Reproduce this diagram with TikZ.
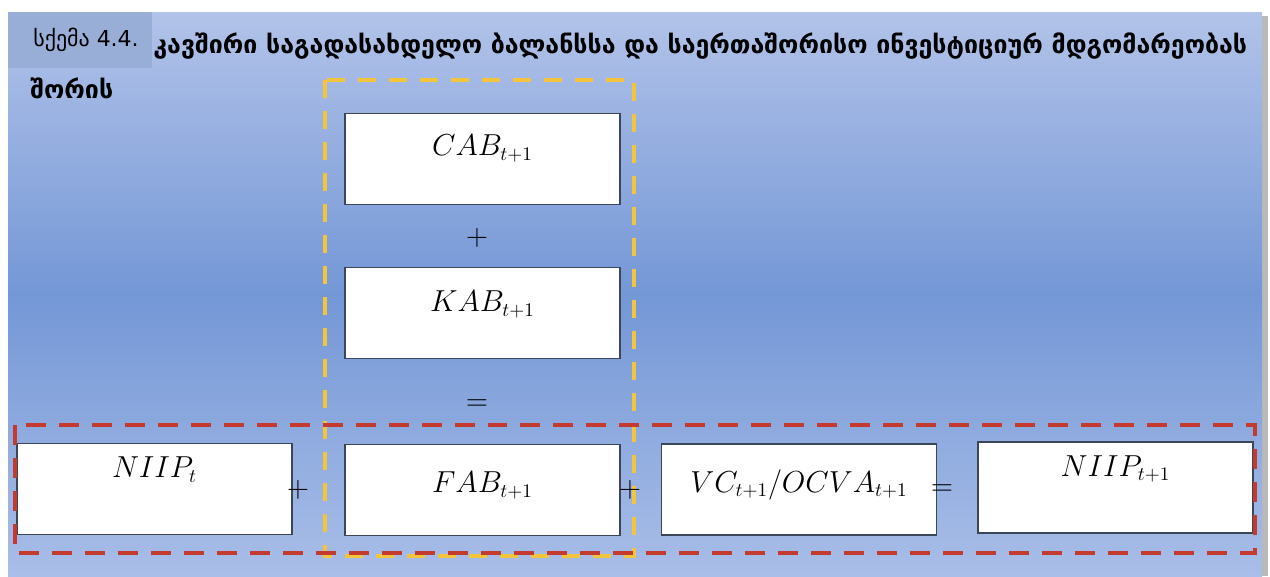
\documentclass[tikz,border=0pt]{standalone}
\usepackage{amsmath}
\usepackage{fontspec}
\newfontfamily\geofont{DejaVu Sans}

\definecolor{paneltop}{HTML}{B2C3E9}
\definecolor{panelmid}{HTML}{7497D6}
\definecolor{panelbot}{HTML}{A9BEE8}
\definecolor{tagfill}{HTML}{98AED6}
\definecolor{boxline}{HTML}{3B4656}
\definecolor{dashyellow}{HTML}{F2C53D}
\definecolor{dashred}{HTML}{C43A2F}

\begin{document}
\begin{tikzpicture}[x=0.02cm,y=-0.02cm,
  box/.style 2 args={draw=boxline,line width=0.7pt,fill=white,inner sep=0pt,
    minimum width=5.5cm,text height=#1,text depth=#2,font=\fontsize{16}{19}\selectfont},
  op/.style={inner sep=0pt,font=\fontsize{17}{19}\selectfont},
  geo/.style={inner sep=0pt,anchor=west,font=\geofont\bfseries\fontsize{14.2}{17}\selectfont},
  yellowframe/.style={draw=dashyellow,line width=2pt,dash pattern=on 0.36cm off 0.26cm},
  redframe/.style={draw=dashred,line width=2.3pt,dash pattern=on 0.4cm off 0.26cm}]
\useasboundingbox (0,0) rectangle (1270,576);
% panel
\fill[white] (0,0) rectangle (1270,576);
\fill[gray!55] (1262,16) rectangle (1268,576);
\shade[top color=paneltop,bottom color=panelbot,middle color=panelmid] (8,12) rectangle (1262,576);
% heading
\node[fill=tagfill,minimum width=2.88cm,minimum height=1.12cm,inner sep=0pt] (tag) at (80,40) {};
\node[inner sep=0pt,font=\geofont\fontsize{12.5}{15}\selectfont] (tagtext) at (86,40) {სქემა 4.4.};
\node[geo] (head1) at (153,46) {კავშირი საგადასახდელო ბალანსსა და საერთაშორისო ინვესტიციურ მდგომარეობას};
\node[geo] (head2) at (30,88) {შორის};
% dashed frames
\draw[yellowframe] (325,80) rectangle (634,556);
% boxes
\node[box={0.84cm}{0.98cm}] (cab) at (482.5,159) {$CAB_{t+1}$};
\node[op] (plus1) at (477,238) {$+$};
\node[box={0.88cm}{0.94cm}] (kab) at (482.5,313) {$KAB_{t+1}$};
\node[op] (eq1) at (477,405) {$=$};
\node[box={0.68cm}{1.14cm}] (niip) at (154.5,489) {$NIIP_t$};
\node[op] (plus2) at (298,490) {$+$};
\node[box={0.96cm}{0.86cm}] (fab) at (482.5,490) {$FAB_{t+1}$};
\node[op] (plus3) at (630,490) {$+$};
\node[box={0.96cm}{0.86cm}] (vc) at (799,489.5) {$VC_{t+1}/OCVA_{t+1}$};
\node[op] (eq2) at (942,490) {$=$};
\node[box={0.68cm}{1.14cm}] (niipnext) at (1115.5,487.5) {$NIIP_{t+1}$};
\draw[redframe] (15,425) rectangle (1255,553);
\end{tikzpicture}
\end{document}
